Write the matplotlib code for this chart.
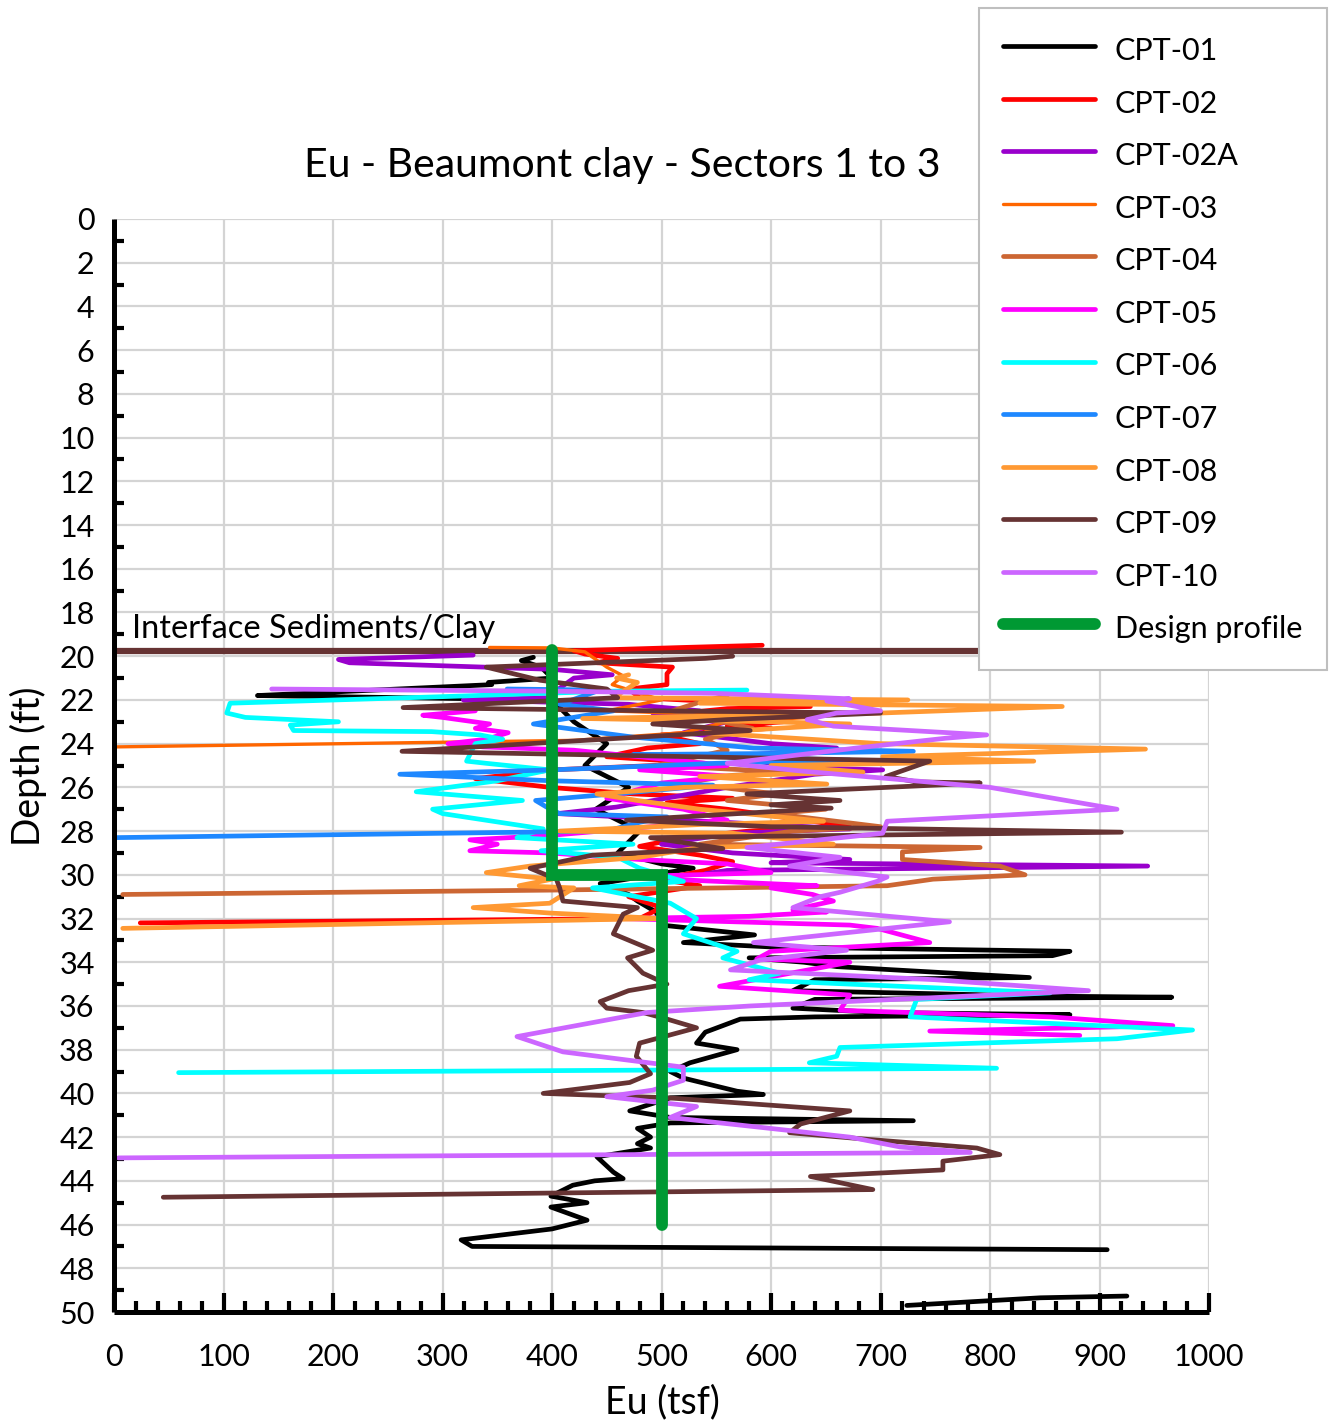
import numpy as np
import matplotlib
matplotlib.use('Agg')
import matplotlib.pyplot as plt
from matplotlib.ticker import MultipleLocator

nan = np.nan

# ---------------- data (Eu in tsf, depth in ft) ----------------
cpt01_eu = [383, 372, 390, 400, 342, 345, 131, 200, 400, 420, 450, 430, 470, 440, 480, 460, 500, 529, 444, 470,
            478, 495, 500, 585, 520, 600, 873, 857, 580, 630, 660, 836, 640, 620, 850, 966, 640, 620, 700, 873,
            640, 572, 540, 532, 569, 526, 508, 520, 569, 593, 508, 471, 508, 730, 508, 478, 490, 478, 490, 441,
            456, 465, 439, 419, 399, 432, 399, 432, 400, 317, 327, 907, nan, 925, 846, 724]
cpt01_d = [20.05, 20.2, 20.5, 21.0, 21.2, 21.3, 21.8, 21.85, 22.0, 23.0, 24.0, 25.0, 26.0, 27.0, 28.0, 29.0, 29.5, 29.7, 30.4, 30.9,
           31.2, 31.7, 32.3, 32.75, 33.1, 33.3, 33.5, 33.7, 33.8, 34.0, 34.2, 34.7, 34.8, 35.3, 35.55, 35.6, 35.7, 36.1, 36.3, 36.4,
           36.5, 36.6, 37.2, 37.7, 38.0, 38.6, 39.0, 39.3, 39.9, 40.05, 40.2, 40.8, 41.1, 41.25, 41.35, 41.6, 42.0, 42.3, 42.5, 42.9,
           43.6, 43.9, 44.0, 44.2, 44.7, 45.0, 45.2, 45.8, 46.2, 46.7, 47.0, 47.15, nan, 49.27, 49.35, 49.7]

cpt02_eu = [592, 520, 420, 430, 460, 441, 510, 505, 505, 470, 480, 636, 560, 520, 611, 560, 600, 500, 535, 487,
            450, 540, 400, 330, 398, 474, 565, 505, 560, 672, 611, 580, 520, 480, 535, 565, 540, 498, 535, 470,
            500, 480, 24]
cpt02_d = [19.5, 19.6, 19.75, 19.9, 20.1, 20.3, 20.5, 20.8, 21.3, 21.5, 21.9, 22.3, 22.4, 22.6, 23.0, 23.2, 23.3, 23.6, 24.0, 24.2,
           24.6, 24.9, 25.2, 25.6, 26.0, 26.3, 26.5, 26.7, 27.0, 27.8, 27.9, 28.0, 28.3, 28.7, 29.1, 29.4, 29.8, 30.2, 30.5, 31.0,
           31.5, 32.0, 32.2]

cpt02a_eu = [328, 205, 215, 400, 455, 420, 395, 319, 470, 535, 492, 560, 520, 600, 660, 560, 627, 702, 640, 560,
             459, 405, 520, 672, 565, 500, 565, 672, 600, 944, 560, 540]
cpt02a_d = [19.95, 20.15, 20.3, 20.6, 20.85, 21.0, 21.9, 22.0, 22.2, 22.5, 22.6, 23.0, 23.5, 24.0, 24.2, 24.6, 25.1, 25.2, 25.4, 26.0,
            26.9, 27.2, 27.5, 27.9, 28.1, 28.6, 29.0, 29.3, 29.45, 29.6, 29.8, 29.95]

cpt03_eu = [343, 400, 430, 450, 465, 455, 500, 450, 600, 636, 560, 520, 420, 0]
cpt03_d = [19.6, 19.62, 19.8, 20.5, 20.9, 21.3, 22.0, 22.5, 22.75, 22.8, 23.0, 23.5, 23.85, 24.15]

cpt04_eu = [560, 535, 510, 583, 540, 560, 496, 617, 565, 520, 605, 560, 650, 602, 700, 620, 535, 791, 720, 720,
            809, 832, 748, 706, 400, 8]
cpt04_d = [21.8, 22.1, 22.5, 23.3, 23.8, 24.3, 25.0, 25.3, 25.45, 25.8, 26.3, 26.6, 27.0, 27.2, 27.8, 28.0, 28.6, 28.75, 28.95, 29.3,
           29.6, 30.0, 30.2, 30.5, 30.7, 30.9]

cpt05_eu = [330, 282, 300, 343, 330, 360, 340, 305, 337, 420, 560, 480, 565, 500, 450, 520, 560, 398, 325, 350,
            325, 398, 480, 560, 600, 459, 642, 600, 638, 657, 620, 651, 580, 462, 672, 697, 745, 600, 587, 672,
            553, 672, 663, 855, 967, 745, 882]
cpt05_d = [22.5, 22.7, 22.8, 23.1, 23.3, 23.5, 23.8, 24.0, 24.15, 24.3, 25.0, 25.2, 25.5, 25.8, 26.5, 27.0, 27.5, 28.2, 28.4, 28.6,
           28.9, 29.0, 29.3, 29.5, 29.9, 30.1, 30.5, 30.6, 30.9, 31.2, 31.6, 31.7, 31.9, 32.0, 32.3, 32.45, 33.1, 33.5, 33.85, 34.0,
           35.1, 35.5, 36.2, 36.5, 36.9, 37.15, 37.35]

cpt06_eu = [578, 453, 300, 106, 103, 120, 205, 161, 164, 290, 334, 355, 330, 322, 340, 398, 350, 276, 373, 291,
            300, 392, 368, 474, 390, 460, 480, 520, 437, 508, 532, 520, 569, 556, 608, 580, 855, 733, 727, 985,
            916, 663, 660, 635, 806, 59]
cpt06_d = [21.55, 21.6, 21.85, 22.15, 22.6, 22.8, 23.0, 23.15, 23.4, 23.45, 23.6, 23.8, 24.0, 24.8, 24.9, 25.2, 25.7, 26.2, 26.6, 27.0,
           27.2, 27.9, 28.3, 28.6, 28.9, 29.2, 29.7, 30.3, 30.6, 31.3, 32.0, 32.7, 33.5, 33.8, 34.5, 34.8, 35.4, 35.7, 36.5, 37.1,
           37.5, 37.9, 38.3, 38.6, 38.85, 39.05]

cpt07_eu = [359, 444, 407, 456, 383, 474, 584, 730, 600, 474, 672, 550, 400, 261, 400, 547, 480, 385, 395, 407,
            505, 480, 450, 0]
cpt07_d = [21.5, 21.55, 22.2, 22.5, 23.1, 23.7, 24.2, 24.35, 24.45, 24.5, 24.75, 24.9, 25.2, 25.4, 25.7, 25.9, 26.2, 26.6, 26.9, 27.2,
           27.35, 27.6, 28.0, 28.3]

cpt08_eu = [470, 459, 478, 456, 725, 535, 866, 700, 428, 600, 672, 540, 700, 942, 702, 840, 600, 684, 535, 651,
            520, 441, 478, 535, 648, 535, 407, 565, 657, 535, 480, 380, 340, 400, 370, 420, 398, 328, 398, 500, 8]
cpt08_d = [20.85, 21.0, 21.2, 21.9, 22.0, 22.15, 22.3, 22.6, 22.85, 23.0, 23.1, 23.5, 24.0, 24.25, 24.6, 24.8, 25.0, 25.3, 25.5, 25.85,
           26.0, 26.3, 26.6, 27.0, 27.55, 27.7, 28.0, 28.1, 28.6, 28.75, 29.2, 29.6, 29.9, 30.2, 30.5, 30.6, 31.3, 31.5, 31.75, 32.0,
           32.45]

cpt09_eu = [565, 540, 340, 389, 450, 460, 264, 500, 700, 560, 492, 581, 480, 263, 745, 705, 733, 791, 578, 663,
            600, 655, 468, 600, 920, 490, 556, 437, 380, 404, 407, 410, 478, 465, 456, 492, 469, 483, 505, 470,
            444, 450, 483, 505, 532, 480, 477, 490, 471, 392, 505, 672, 627, 617, 688, 788, 809, 757, 757, 636,
            693, 45]
cpt09_d = [20.0, 20.1, 20.5, 21.1, 21.5, 21.9, 22.35, 22.5, 22.6, 22.9, 23.1, 23.4, 23.7, 24.35, 24.8, 25.5, 25.75, 25.8, 26.3, 26.6,
           26.8, 26.95, 27.5, 27.8, 28.05, 28.3, 28.8, 29.1, 29.7, 30.2, 30.6, 31.2, 31.5, 31.8, 32.7, 33.45, 33.8, 34.5, 35.0, 35.3,
           35.8, 36.1, 36.3, 36.6, 37.0, 37.7, 38.3, 39.1, 39.5, 40.0, 40.2, 40.8, 41.4, 41.8, 42.1, 42.5, 42.8, 43.1, 43.5, 43.8,
           44.4, 44.75]

cpt10_eu = [144, 400, 550, 672, 651, 700, 660, 633, 657, 797, 760, 678, 560, 627, 800, 916, 706, 702, 578, 663,
            617, 706, 697, 663, 645, 620, 763, 584, 669, 590, 563, 750, 890, 581, 487, 368, 410, 520, 520, 492,
            450, 532, 508, 672, 718, 782, 4]
cpt10_d = [21.5, 21.6, 21.7, 21.95, 22.05, 22.5, 22.6, 22.9, 23.2, 23.6, 23.75, 24.2, 24.9, 25.25, 26.0, 27.0, 27.55, 28.1, 28.75, 29.2,
           29.6, 30.1, 30.3, 30.8, 31.0, 31.5, 32.15, 33.1, 33.45, 33.9, 34.35, 34.8, 35.3, 36.0, 36.3, 37.4, 38.1, 38.8, 39.4, 39.85,
           40.15, 40.6, 41.1, 42.0, 42.45, 42.7, 42.95]

design_eu = [400, 400, 500, 500]
design_d = [19.7, 30.0, 30.0, 46.0]

interface_eu = [0, 1000]
interface_d = [19.75, 19.75]

series_names = ['CPT-01', 'CPT-02', 'CPT-02A', 'CPT-03', 'CPT-04', 'CPT-05',
                'CPT-06', 'CPT-07', 'CPT-08', 'CPT-09', 'CPT-10']
series_colors = ['#000000', '#FF0000', '#9900CC', '#FF6600', '#CC6633', '#FF00FF',
                 '#00FFFF', '#1E88FF', '#FF9933', '#663333', '#CC66FF']
series_eu = [cpt01_eu, cpt02_eu, cpt02a_eu, cpt03_eu, cpt04_eu, cpt05_eu,
             cpt06_eu, cpt07_eu, cpt08_eu, cpt09_eu, cpt10_eu]
series_d = [cpt01_d, cpt02_d, cpt02a_d, cpt03_d, cpt04_d, cpt05_d,
            cpt06_d, cpt07_d, cpt08_d, cpt09_d, cpt10_d]

# ---------------- figure ----------------
plt.rcParams['font.family'] = ['Lato', 'DejaVu Sans']

W, H = 1340, 1425
fig = plt.figure(figsize=(W / 100, H / 100), dpi=100)
ax = fig.add_axes([114 / W, 1 - 1312 / H, (1209 - 114) / W, (1312 - 219) / H])
ax.set_xlim(0, 1000)
ax.set_ylim(50, 0)

ax.xaxis.set_major_locator(MultipleLocator(100))
ax.xaxis.set_minor_locator(MultipleLocator(20))
ax.yaxis.set_major_locator(MultipleLocator(2))
ax.yaxis.set_minor_locator(MultipleLocator(1))
ax.grid(True, which='major', color='#d4d4d4', lw=1.6)
ax.set_axisbelow(True)

for s in ['top', 'right']:
    ax.spines[s].set_visible(False)
for s in ['left', 'bottom']:
    ax.spines[s].set_linewidth(3.6)
    ax.spines[s].set_capstyle('butt')

ax.tick_params(axis='x', which='major', direction='in', length=14, width=3, labelsize=22, pad=22)
ax.tick_params(axis='x', which='minor', direction='in', length=8, width=3)
ax.tick_params(axis='y', which='major', direction='in', length=0, width=0, labelsize=22, pad=14)
ax.tick_params(axis='y', which='minor', direction='in', length=7, width=3)

ax.plot(interface_eu, interface_d, color='#663333', lw=4.5, zorder=1.5, solid_capstyle='butt')

handles = []
for name, col, xs, ys in zip(series_names, series_colors, series_eu, series_d):
    lw = 2.4 if name == 'CPT-03' else 3.4
    h, = ax.plot(xs, ys, color=col, lw=lw, label=name,
                 solid_capstyle='round', solid_joinstyle='round', zorder=2)
    handles.append(h)

hd, = ax.plot(design_eu, design_d, color='#009933', lw=8.5, label='Design profile',
              solid_capstyle='round', solid_joinstyle='miter', zorder=3)
handles.append(hd)

ax.text(16, 18.75, 'Interface Sediments/Clay', fontsize=23.5, va='center', ha='left', zorder=4)

fig.text(622 / W, 1 - 166 / H, 'Eu - Beaumont clay - Sectors 1 to 3', fontsize=29.5,
         ha='center', va='center')
fig.text(28 / W, 1 - 766 / H, 'Depth (ft)', fontsize=27, rotation=90, ha='center', va='center')
fig.text(662 / W, 1 - 1402 / H, 'Eu (tsf)', fontsize=27, ha='center', va='center')

leg = fig.legend(handles=handles, labels=[h.get_label() for h in handles],
                 loc='upper left', bbox_to_anchor=(979 / W, 1 - 8 / H),
                 bbox_transform=fig.transFigure, frameon=True, fancybox=False,
                 framealpha=1.0, facecolor='white',
                 edgecolor='#bfbfbf', fontsize=22, handlelength=3.0, handleheight=1.37,
                 handletextpad=0.65, labelspacing=0.585, borderpad=0.8, borderaxespad=0)
leg.get_frame().set_linewidth(1.5)
for lh in leg.get_lines():
    lh.set_solid_capstyle('round')

fig.savefig('out.png', dpi=100)
